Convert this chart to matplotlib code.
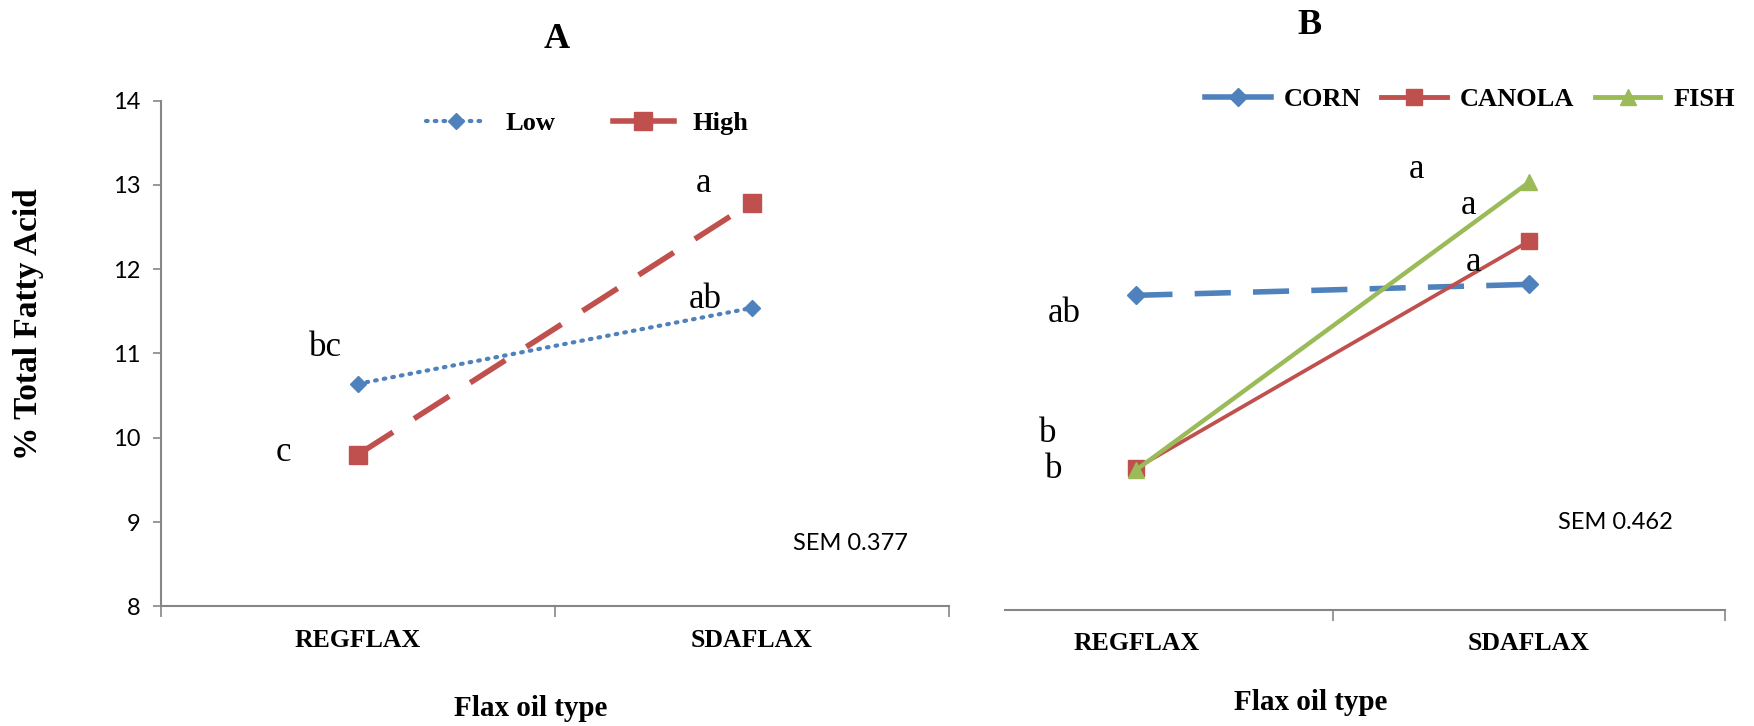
import matplotlib.pyplot as plt
from matplotlib.lines import Line2D

# data
categories = ["REGFLAX", "SDAFLAX"]
low = [10.64, 11.54]
high = [9.80, 12.79]
corn = [11.73, 11.86]
canola = [9.68, 12.37]
fish = [9.66, 13.07]

letters_a = ["bc", "c", "a", "ab"]
letters_a_pos = [(0.918, 11.07), (0.812, 9.82), (1.877, 13.02), (1.883, 11.64)]
letters_b = ["ab", "b", "b", "a", "a", "a"]
letters_b_pos = [(0.816, 11.52), (0.773, 10.09), (0.79, 9.66),
                 (1.713, 13.22), (1.847, 12.79), (1.86, 12.12)]
sem_a = "SEM 0.377"
sem_b = "SEM 0.462"

BLUE = "#4F81BD"
RED = "#C0504D"
GREEN = "#9BBB59"
AXC = "#868686"
serif = "Liberation Serif"
sans = "Lato"

x = [1, 2]

fig = plt.figure(figsize=(17.54, 7.26), dpi=100)
axA = fig.add_axes([0.0918, 0.1649, 0.449, 0.6964])
axB = fig.add_axes([0.536, 0.1603, 0.4475, 0.6964])

#---------- panel A
axA.plot(x, low, color=BLUE, lw=3, ls=(0, (0.4, 1.7)), dash_capstyle="round",
         marker="D", ms=8)
axA.plot(x, high, color=RED, lw=4, ls=(0, (7.5, 4.5)), marker="s", ms=13)

for t, (px, py) in zip(letters_a, letters_a_pos):
    axA.text(px, py, t, fontsize=25, family=serif, ha="center", va="center")
axA.text(2.25, 8.74, sem_a, fontsize=17, family=sans, ha="center", va="center")

axA.set_ylim(8, 14)
axA.set_yticks(range(8, 15))
axA.tick_params(axis="y", direction="out", length=6, width=1.2, color=AXC,
                labelsize=17, pad=9)
for lbl in axA.get_yticklabels():
    lbl.set_family(sans)

hA = [Line2D([], [], color=BLUE, lw=3, ls=(0, (0.4, 1.7)), dash_capstyle="round",
             marker="D", ms=8),
      Line2D([], [], color=RED, lw=4, marker="s", ms=13)]
axA.legend(hA, ["Low", "High"], loc="center", bbox_to_anchor=(0.541, 0.955), ncol=2,
           frameon=False, handlelength=2.3, columnspacing=2.2,
           handletextpad=0.7, prop={"family": serif, "weight": "bold", "size": 19})

axA.set_ylabel("% Total Fatty Acid", fontsize=24, family=serif, fontweight="bold")
axA.yaxis.set_label_coords(-0.149, 0.558)

#---------- panel B
axB.plot(x, corn, color=BLUE, lw=4, ls=(0, (6.5, 4)), marker="D", ms=9)
axB.plot(x, canola, color=RED, lw=2.7, marker="s", ms=12)
axB.plot(x, fish, color=GREEN, lw=3.2, marker="^", ms=12)

for t, (px, py) in zip(letters_b, letters_b_pos):
    axB.text(px, py, t, fontsize=25, family=serif, ha="center", va="center")
axB.text(2.22, 9.03, sem_b, fontsize=17, family=sans, ha="center", va="center")

axB.set_ylim(8, 14)
axB.set_yticks([])
axB.spines["left"].set_visible(False)

hB = [Line2D([], [], color=BLUE, lw=4, marker="D", ms=9),
      Line2D([], [], color=RED, lw=3.5, marker="s", ms=12),
      Line2D([], [], color=GREEN, lw=3.5, marker="^", ms=12)]
axB.legend(hB, ["CORN", "CANOLA", "FISH"], loc="center", bbox_to_anchor=(0.675, 1.009),
           ncol=3, frameon=False, handlelength=2.5, columnspacing=0.75,
           handletextpad=0.5, prop={"family": serif, "weight": "bold", "size": 19})

#---------- common x axis styling
for ax in (axA, axB):
    ax.set_xlim(0.5, 2.5)
    ax.set_xticks(x)
    ax.set_xticklabels(categories, family=serif, fontweight="bold", fontsize=18.5)
    ax.set_xticks([0.5, 1.5, 2.5], minor=True)
    ax.tick_params(axis="x", which="major", length=0, pad=16)
    ax.tick_params(axis="x", which="minor", direction="out", length=8, width=1.2, color=AXC)
    ax.spines["top"].set_visible(False)
    ax.spines["right"].set_visible(False)
    for s in ("left", "bottom"):
        ax.spines[s].set_color(AXC)
        ax.spines[s].set_linewidth(1.5)
    ax.set_facecolor("none")

axB.spines["bottom"].set_bounds(0.664, 2.5)
axB.xaxis.get_minor_ticks()[0].tick1line.set_visible(False)

fig.text(531 / 1754, 1 - 708 / 726, "Flax oil type", fontsize=21, family=serif,
         fontweight="bold", ha="center", va="center")
fig.text(1311 / 1754, 1 - 702 / 726, "Flax oil type", fontsize=21, family=serif,
         fontweight="bold", ha="center", va="center")
fig.text(557 / 1754, 1 - 40 / 726, "A", fontsize=26, family=serif,
         fontweight="bold", ha="center", va="center")
fig.text(1309 / 1754, 1 - 25 / 726, "B", fontsize=26, family=serif,
         fontweight="bold", ha="center", va="center")

fig.savefig("out.png", dpi=100)
